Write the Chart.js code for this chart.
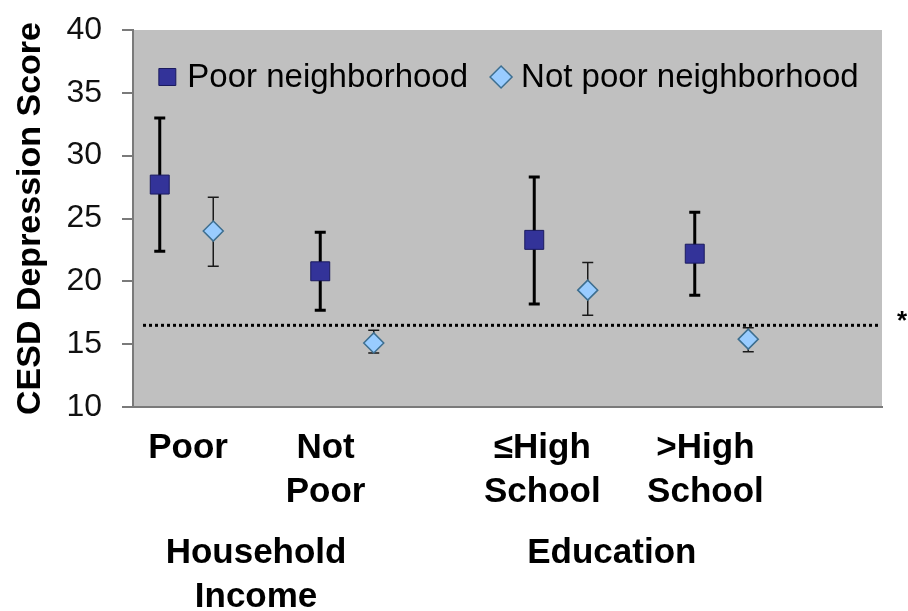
<!DOCTYPE html>
<html>
<head>
<meta charset="utf-8">
<script src="https://cdn.jsdelivr.net/npm/chart.js@4.4.0/dist/chart.umd.min.js"></script>
<style>
  html, body { margin: 0; padding: 0; background: #fff; }
  #wrap { width: 908px; height: 611px; position: relative; }
</style>
</head>
<body>
<div id="wrap"><canvas id="chart"></canvas></div>
<script>
// categories and group labels
const categories = [['Poor'], ['Not', 'Poor'], ['\u2264High', 'School'], ['>High', 'School']];
const groups = [['Household', 'Income'], ['Education']];
const seriesNames = ['Poor neighborhood', 'Not poor neighborhood'];

// CESD means with error bar ends
const poorMean = [27.7, 20.8, 23.3, 22.2];
const poorLow = [22.4, 17.7, 18.2, 18.9];
const poorHigh = [33.0, 23.9, 28.3, 25.5];
const notPoorMean = [24.0, 15.1, 19.3, 15.4];
const notPoorLow = [21.2, 14.3, 17.3, 14.4];
const notPoorHigh = [26.7, 16.1, 21.5, 16.3];

const cutoff = 16.5;
const yMin = 10, yMax = 40, yStep = 5;

// slots on the linear x axis (0..14)
const catSlot = [1, 4, 8, 11];
const catLabelSlot = [1.03, 3.6, 7.65, 10.7];
const groupSlot = [2.3, 8.95];

const FONT = "'Liberation Sans', Arial, sans-serif";

const toPoints = (vals, shift) => vals.map((v, i) => ({ x: catSlot[i] + shift, y: v }));

const errorInfo = [
  { low: poorLow, high: poorHigh, width: 3, color: '#000' },
  { low: notPoorLow, high: notPoorHigh, width: 1.5, color: '#1a1a1a' }
];

// legend drawn inside the plot, one row
const legendMarks = [
  { radius: 12 },
  { radius: 11 }
];

const plotDecor = {
  id: 'plotDecor',
  beforeDraw(chart) {
    const { ctx, chartArea: a } = chart;
    ctx.save();
    ctx.fillStyle = '#c0c0c0';
    ctx.fillRect(a.left, a.top, a.right - a.left, a.bottom - a.top);
    ctx.restore();
  },
  beforeDatasetsDraw(chart) {
    const { ctx, chartArea: a, scales: { y } } = chart;
    ctx.save();
    // dotted cutoff line
    const yc = y.getPixelForValue(cutoff);
    ctx.strokeStyle = '#000';
    ctx.lineWidth = 3;
    ctx.setLineDash([3, 3]);
    ctx.beginPath();
    ctx.moveTo(a.left + 10, yc);
    ctx.lineTo(a.right - 2, yc);
    ctx.stroke();
    ctx.setLineDash([]);
    // error bars
    errorInfo.forEach((e, di) => {
      const meta = chart.getDatasetMeta(di);
      ctx.strokeStyle = e.color;
      ctx.lineWidth = e.width;
      meta.data.forEach((pt, i) => {
        const y1 = y.getPixelForValue(e.low[i]);
        const y2 = y.getPixelForValue(e.high[i]);
        ctx.beginPath();
        ctx.moveTo(pt.x, y1);
        ctx.lineTo(pt.x, y2);
        ctx.moveTo(pt.x - 5.5, y1);
        ctx.lineTo(pt.x + 5.5, y1);
        ctx.moveTo(pt.x - 5.5, y2);
        ctx.lineTo(pt.x + 5.5, y2);
        ctx.stroke();
      });
    });
    ctx.restore();
  },
  afterDraw(chart) {
    const { ctx, chartArea: a, scales: { y } } = chart;
    ctx.save();
    ctx.fillStyle = '#000';
    ctx.font = 'bold 26px ' + FONT;
    ctx.textAlign = 'center';
    ctx.textBaseline = 'middle';
    ctx.fillText('*', a.right + 20, y.getPixelForValue(cutoff) - 3);

    // legend
    ctx.font = '33px ' + FONT;
    ctx.textAlign = 'left';
    const markW = 22, gap = 9, spacing = 22;
    const widths = seriesNames.map(n => markW + gap + ctx.measureText(n).width);
    const total = widths[0] + spacing + widths[1];
    let x = (a.left + a.right) / 2 - total / 2;
    const ly = a.top + 47;
    chart.data.datasets.forEach((ds, i) => {
      ctx.fillStyle = ds.backgroundColor;
      ctx.strokeStyle = ds.borderColor;
      ctx.lineWidth = ds.borderWidth;
      Chart.helpers.drawPoint(ctx, { pointStyle: ds.pointStyle, radius: legendMarks[i].radius, rotation: 0, borderWidth: ds.borderWidth }, x + markW / 2, ly);
      ctx.fillStyle = '#000';
      ctx.fillText(ds.label, x + markW + gap, ly + 1);
      x += widths[i] + spacing;
    });
    ctx.restore();
  }
};

new Chart(document.getElementById('chart'), {
  type: 'scatter',
  data: {
    datasets: [
      {
        label: seriesNames[0],
        data: toPoints(poorMean, -0.5),
        pointStyle: 'rect',
        pointRadius: 13.4,
        backgroundColor: '#333399',
        borderColor: '#1a1a5e',
        borderWidth: 1
      },
      {
        label: seriesNames[1],
        data: toPoints(notPoorMean, 0.5),
        pointStyle: 'rectRot',
        pointRadius: 10,
        backgroundColor: '#99ccff',
        borderColor: '#3d6e8f',
        borderWidth: 1.5
      }
    ]
  },
  options: {
    responsive: true,
    maintainAspectRatio: false,
    animation: false,
    events: [],
    layout: { padding: { top: 30, right: 26, left: 0, bottom: 0 } },
    plugins: {
      tooltip: { enabled: false },
      legend: { display: false }
    },
    scales: {
      x: {
        type: 'linear',
        position: 'bottom',
        min: 0,
        max: 14,
        afterBuildTicks: (axis) => { axis.ticks = catLabelSlot.map(v => ({ value: v })); },
        afterFit: (axis) => { axis.height = 110; },
        grid: { display: false },
        border: { display: true, color: '#7a7a7a', width: 2 },
        ticks: {
          autoSkip: false,
          maxRotation: 0,
          padding: 11,
          color: '#000',
          font: { family: FONT, size: 35, weight: 'bold', lineHeight: 1.26 },
          callback: (v, i) => categories[i]
        }
      },
      x2: {
        type: 'linear',
        position: 'bottom',
        min: 0,
        max: 14,
        afterBuildTicks: (axis) => { axis.ticks = groupSlot.map(v => ({ value: v })); },
        afterFit: (axis) => { axis.height = 94; },
        grid: { display: false },
        border: { display: false },
        ticks: {
          autoSkip: false,
          maxRotation: 0,
          padding: 6,
          color: '#000',
          font: { family: FONT, size: 35, weight: 'bold', lineHeight: 1.26 },
          callback: (v, i) => groups[i]
        }
      },
      y: {
        min: yMin,
        max: yMax,
        afterFit: (axis) => {
          axis.width = 133;
          axis.paddingTop = 0;
          axis.paddingBottom = 0;
        },
        grid: { drawOnChartArea: false, drawTicks: true, tickLength: 11, color: '#7a7a7a', lineWidth: 2 },
        border: { display: true, color: '#7a7a7a', width: 2 },
        ticks: {
          stepSize: yStep,
          padding: 20,
          color: '#111',
          font: { family: FONT, size: 32 }
        },
        title: {
          display: true,
          text: 'CESD Depression Score',
          color: '#000',
          padding: { top: 10, bottom: 0 },
          font: { family: FONT, size: 34, weight: 'bold' }
        }
      }
    }
  },
  plugins: [plotDecor]
});
</script>
</body>
</html>
